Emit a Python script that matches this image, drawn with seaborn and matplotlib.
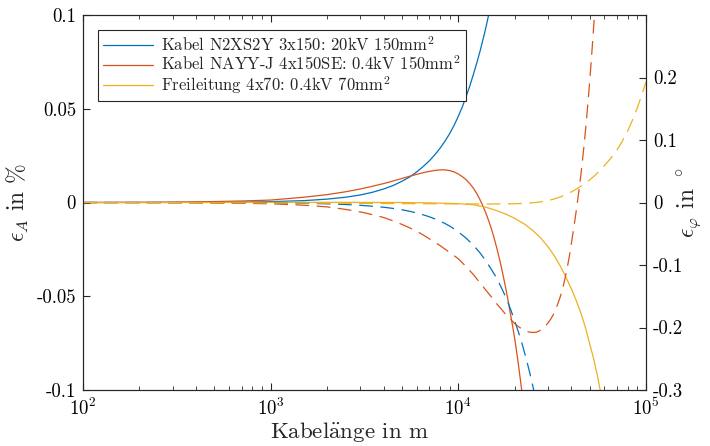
import matplotlib
matplotlib.use("Agg")
import matplotlib.pyplot as plt
import seaborn as sns
from matplotlib.ticker import LogLocator, LogFormatterMathtext, NullFormatter, FixedLocator

# ---- N2XS2Y 3x150 (20 kV) ----
len_n2xs2y_a = [100, 200, 300, 500, 700, 1000, 1500, 2000, 2500, 3000, 3500, 4000,
                4500, 5000, 5500, 6000, 6500, 7000, 7500, 8000, 8500, 9000, 9500,
                10000, 10500, 11000, 11500, 12000, 12500, 13000, 13500, 14000,
                14500, 15000]
eps_a_n2xs2y = [0.0, 0.00002, 0.00004, 0.00011, 0.00022, 0.00045, 0.001, 0.0018,
                0.0028, 0.004, 0.0055, 0.0072, 0.0091, 0.0113, 0.0136, 0.0163,
                0.0192, 0.0222, 0.0255, 0.029, 0.0328, 0.0368, 0.0412, 0.046,
                0.051, 0.0565, 0.062, 0.068, 0.074, 0.080, 0.0865, 0.093, 0.100, 0.107]

len_n2xs2y_p = [100, 200, 300, 500, 700, 1000, 1500, 2000, 2500, 3000, 3500, 4000,
                4500, 5000, 5500, 6000, 6500, 7000, 7500, 8000, 8500, 9000, 9500,
                10000, 11000, 12000, 13000, 14000, 15000, 16000, 17000, 18000,
                19000, 20000, 21000, 22000, 23000, 24000, 25000, 26000]
eps_p_n2xs2y = [0.0, -0.00002, -0.00004, -0.0001, -0.0002, -0.0005, -0.0012,
                -0.0021, -0.0032, -0.0045, -0.006, -0.0076, -0.0095, -0.0116,
                -0.014, -0.0168, -0.0197, -0.0228, -0.0262, -0.0298, -0.0337,
                -0.0378, -0.0423, -0.047, -0.057, -0.068, -0.080, -0.093, -0.107,
                -0.121, -0.137, -0.153, -0.171, -0.19, -0.209, -0.229, -0.250,
                -0.272, -0.295, -0.318]

# ---- NAYY-J 4x150SE (0.4 kV) ----
len_nayy_a = [100, 200, 300, 500, 700, 1000, 1500, 2000, 2500, 3000, 3500, 4000,
              4500, 5000, 5500, 6000, 6500, 7000, 7500, 8000, 8500, 9000, 9500,
              10000, 10500, 11000, 11500, 12000, 12500, 13000, 13500, 14000, 14500,
              15000, 15500, 16000, 16500, 17000, 17500, 18000, 18500, 19000, 19500,
              20000, 20500, 21000, 21500, 22000]
eps_a_nayy = [0.0, 0.0001, 0.0002, 0.0005, 0.0008, 0.0013, 0.0028, 0.0042, 0.0057,
              0.0072, 0.0087, 0.0101, 0.0115, 0.0128, 0.014, 0.015, 0.0159, 0.0166,
              0.0171, 0.0174, 0.0174, 0.0170, 0.0163, 0.0152, 0.0138, 0.0122, 0.0101,
              0.0078, 0.0050, 0.0018, -0.0017, -0.0055, -0.0096, -0.014, -0.0188,
              -0.024, -0.0294, -0.035, -0.041, -0.047, -0.0534, -0.060, -0.0664,
              -0.073, -0.0803, -0.088, -0.096, -0.104]

len_nayy_p = [100, 200, 300, 500, 700, 1000, 1500, 2000, 2500, 3000, 3500, 4000,
              4500, 5000, 5500, 6000, 6500, 7000, 7500, 8000, 9000, 10000, 11000,
              12000, 13000, 14000, 15000, 16000, 17000, 18000, 19000, 20000, 21000,
              22000, 23000, 24000, 25000, 26000, 27000, 28000, 29000, 30000, 31000,
              32000, 33000, 34000, 35000, 36000, 37000, 38000, 39000, 40000, 41000,
              42000, 43000, 44000, 45000, 46000, 47000, 48000, 49000, 50000, 51000,
              52000, 53000, 54000]
eps_p_nayy = [-0.0001, -0.0003, -0.0005, -0.0009, -0.0013, -0.002, -0.0043, -0.007,
              -0.011, -0.015, -0.0195, -0.024, -0.0295, -0.035, -0.0405, -0.046,
              -0.052, -0.058, -0.0635, -0.069, -0.08, -0.09, -0.1025, -0.115, -0.128,
              -0.140, -0.151, -0.162, -0.171, -0.180, -0.187, -0.194, -0.199, -0.203,
              -0.206, -0.2075, -0.208, -0.2075, -0.2055, -0.2025, -0.198, -0.193,
              -0.187, -0.180, -0.171, -0.161, -0.150, -0.137, -0.122, -0.105, -0.087,
              -0.066, -0.045, -0.024, -0.002, 0.021, 0.045, 0.071, 0.098, 0.127,
              0.158, 0.19, 0.224, 0.259, 0.295, 0.332]

# ---- Freileitung 4x70 (0.4 kV) ----
len_fl_a = [100, 500, 1000, 2000, 5000, 7000, 10000, 12000, 14000, 16000, 18000,
            20000, 22500, 25000, 27500, 30000, 32500, 35000, 37500, 40000, 42500,
            45000, 47500, 50000, 52500, 55000, 57500, 60000]
eps_a_fl = [0.0, 0.0, 0.0001, 0.0001, 0.0, -0.0002, -0.0006, -0.0012, -0.0025,
            -0.0043, -0.0063, -0.0085, -0.0115, -0.015, -0.019, -0.0235, -0.0285,
            -0.034, -0.040, -0.046, -0.0523, -0.059, -0.0665, -0.075, -0.083,
            -0.092, -0.102, -0.112]

len_fl_p = [100, 500, 1000, 2000, 5000, 10000, 15000, 20000, 22500, 25000, 27500,
            30000, 32500, 35000, 37500, 40000, 42500, 45000, 47500, 50000, 52500,
            55000, 57500, 60000, 62500, 65000, 67500, 70000, 72500, 75000, 77500,
            80000, 82500, 85000, 87500, 90000, 92500, 95000, 97500, 100000]
eps_p_fl = [0.0, -0.0003, -0.0006, -0.0011, -0.0018, -0.0022, -0.0024, -0.002,
            -0.0013, -0.0004, 0.001, 0.003, 0.0057, 0.009, 0.0128, 0.017, 0.0214,
            0.026, 0.031, 0.036, 0.0413, 0.047, 0.053, 0.059, 0.065, 0.071, 0.0775,
            0.084, 0.0913, 0.099, 0.107, 0.115, 0.124, 0.133, 0.1425, 0.152, 0.162,
            0.172, 0.1825, 0.193]

labels = ["Kabel N2XS2Y 3x150: 20kV 150mm$^2$",
          "Kabel NAYY-J 4x150SE: 0.4kV 150mm$^2$",
          "Freileitung 4x70: 0.4kV 70mm$^2$"]
colors = ["#0072BD", "#D95319", "#EDB120"]

sns.set_style("ticks")
plt.rcParams.update({
    "font.family": ["cmr10", "DejaVu Serif"],
    "mathtext.fontset": "cm",
    "axes.unicode_minus": False,
    "axes.formatter.use_mathtext": True,
    "xtick.direction": "in",
    "ytick.direction": "in",
    "axes.edgecolor": "#262626",
    "axes.linewidth": 0.8,
})

fig = plt.figure(figsize=(7.1, 4.46), dpi=100)
ax = fig.add_axes([83 / 710, 56 / 446, 563 / 710, 375 / 446])
ax2 = ax.twinx()

lw = 0.9
solid_sets = [(len_n2xs2y_a, eps_a_n2xs2y), (len_nayy_a, eps_a_nayy), (len_fl_a, eps_a_fl)]
dash_sets = [(len_n2xs2y_p, eps_p_n2xs2y), (len_nayy_p, eps_p_nayy), (len_fl_p, eps_p_fl)]

for (x, y), c, lab in zip(solid_sets, colors, labels):
    sns.lineplot(x=x, y=y, ax=ax, color=c, lw=lw, label=lab, estimator=None, sort=False)
for (x, y), c in zip(dash_sets, colors):
    sns.lineplot(x=x, y=y, ax=ax2, color=c, lw=lw, estimator=None, sort=False,
                 linestyle=(0, (11, 6)))

for a in (ax, ax2):
    if a.get_legend() is not None:
        a.get_legend().remove()

ax.set_xscale("log")
ax.set_xlim(1e2, 1e5)
ax.set_ylim(-0.1, 0.1)
ax2.set_ylim(-0.3, 0.3)

ax.xaxis.set_major_locator(LogLocator(base=10, numticks=10))
ax.xaxis.set_major_formatter(LogFormatterMathtext())
ax.xaxis.set_minor_locator(LogLocator(base=10, subs=range(2, 10), numticks=20))
ax.xaxis.set_minor_formatter(NullFormatter())
ax.yaxis.set_major_locator(FixedLocator([-0.1, -0.05, 0, 0.05, 0.1]))
ax.set_yticklabels(["-0.1", "-0.05", "0", "0.05", "0.1"])
ax2.yaxis.set_major_locator(FixedLocator([-0.3, -0.2, -0.1, 0, 0.1, 0.2]))
ax2.set_yticklabels(["-0.3", "-0.2", "-0.1", "0", "0.1", "0.2"])

ax.tick_params(axis="x", which="both", top=True, bottom=True, direction="in",
               labelsize=13.5, pad=6, colors="#262626", labelcolor="black")
ax.tick_params(axis="x", which="major", length=5, width=0.8)
ax.tick_params(axis="x", which="minor", length=3, width=0.6)
ax.tick_params(axis="y", which="major", left=True, right=False, length=5, width=0.8,
               labelsize=13.5, pad=5, colors="#262626", labelcolor="black")
ax2.tick_params(axis="y", which="major", length=5, width=0.8, labelsize=13.5, pad=5,
                colors="#262626", labelcolor="black")

ax.set_xlabel(r"Kabel$\ddot{\rm a}$nge in m", fontsize=16.5)
ax.xaxis.set_label_coords(0.474, -0.112)
ax.xaxis.label.set_va("center")
ax.set_ylabel(r"$\epsilon_A$ in %", fontsize=17)
ax.yaxis.set_label_coords(-0.115, 0.5)
ax2.set_ylabel(r"$\epsilon_\varphi$ in $^\circ$", fontsize=17)
ax2.yaxis.set_label_coords(1.076, 0.5)
ax.yaxis.label.set_va("center")
ax2.yaxis.label.set_va("center")

for a in (ax, ax2):
    for s in a.spines.values():
        s.set_visible(True)
        s.set_color("#262626")
        s.set_linewidth(0.8)

handles, labs = ax.get_legend_handles_labels()
leg = ax2.legend(handles, labs, loc="upper left", bbox_to_anchor=(0.0266, 0.96),
                 borderaxespad=0, fontsize=12, frameon=True, fancybox=False,
                 edgecolor="#262626", framealpha=1, handlelength=3.0,
                 handletextpad=0.5, labelspacing=0.05, borderpad=0.3)
leg.get_frame().set_linewidth(0.8)

fig.savefig("out.png", dpi=100)
